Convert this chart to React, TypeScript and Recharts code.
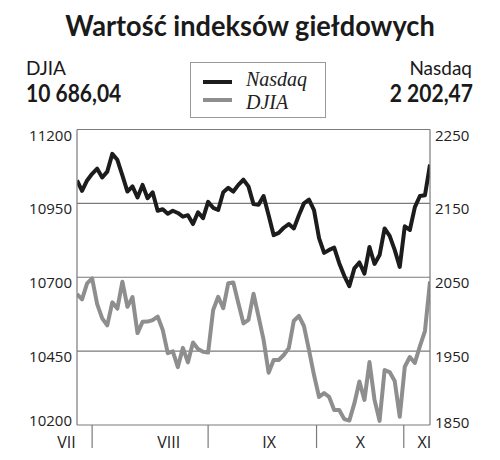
import React from "react";
import { ComposedChart, Line, XAxis, YAxis, CartesianGrid } from "recharts";

// Trading days from late July to 4 Nov 2005 (index 0..70)
const nasdaq: number[] = [
  2181, 2167, 2181, 2190, 2197, 2185, 2193, 2217, 2209, 2188,
  2166, 2173, 2158, 2175, 2157, 2165, 2140, 2142, 2136, 2140,
  2137, 2132, 2134, 2122, 2138, 2130, 2152, 2144, 2141, 2165,
  2171, 2166, 2175, 2182, 2173, 2149, 2148, 2160, 2134, 2107,
  2110, 2117, 2122, 2116, 2134, 2150, 2155, 2141, 2103, 2083,
  2087, 2090, 2069, 2052, 2038, 2062, 2070, 2055, 2091, 2068,
  2080, 2116, 2106, 2087, 2064, 2119, 2114, 2145, 2160, 2161,
  2202.47,
];

const djia: number[] = [
  10643, 10625, 10679, 10696, 10609, 10561, 10537, 10615, 10594, 10685,
  10600, 10633, 10511, 10549, 10550, 10555, 10567, 10522, 10443, 10449,
  10396, 10461, 10412, 10479, 10457, 10448, 10445, 10589, 10634, 10595,
  10680, 10682, 10612, 10544, 10556, 10644, 10567, 10488, 10377, 10420,
  10420, 10437, 10460, 10553, 10569, 10535, 10454, 10369, 10295, 10308,
  10295, 10251, 10251, 10220, 10215, 10273, 10347, 10285, 10413, 10285,
  10214, 10386, 10379, 10349, 10228, 10397, 10430, 10410, 10467, 10518,
  10686.04,
];

const monthLabels: string[] = ["VII", "VIII", "IX", "X", "XI"];
const monthLabelPos: number[] = [-2.1, 18.2, 38.1, 56.2, 68.9];
const monthBoundaries: number[] = [3, 26, 47.5, 64.8];

const djiaTicks: number[] = [10200, 10450, 10700, 10950, 11200];
const nasdaqTicks: number[] = [1850, 1950, 2050, 2150, 2250];

const data = nasdaq.map((v, i) => ({ day: i, nasdaq: v, djia: djia[i] }));

const TICK_FONT = "'Open Sans', sans-serif";
const GRID = "#7a7a7a";

const XTick = (props: any) => {
  const { x, y, payload } = props;
  const v = payload.value;
  const bi = monthBoundaries.indexOf(v);
  if (bi >= 0) {
    return <line x1={x} x2={x} y1={y} y2={y + 23} stroke={GRID} strokeWidth={1.2} />;
  }
  const li = monthLabelPos.indexOf(v);
  if (li < 0) return null;
  return (
    <text x={x} y={y + 23} textAnchor="middle" fontFamily={TICK_FONT} fontSize={16} fill="#222">
      {monthLabels[li]}
    </text>
  );
};

const YTickLeft = (props: any) => {
  const { x, y, payload } = props;
  const isBottom = payload.value === djiaTicks[0];
  return (
    <text x={x} y={isBottom ? y + 1 : y + 11} textAnchor="end" fontFamily={TICK_FONT} fontSize={15} fill="#222">
      {payload.value}
    </text>
  );
};

const YTickRight = (props: any) => {
  const { x, y, payload } = props;
  const isBottom = payload.value === nasdaqTicks[0];
  return (
    <text x={x} y={isBottom ? y + 3 : y + 11} textAnchor="start" fontFamily={TICK_FONT} fontSize={15} fill="#222">
      {payload.value}
    </text>
  );
};

const headFont = "Lato, 'Noto Sans', sans-serif";
const legendFont = "'Liberation Serif', serif";

export default function App() {
  return (
    <div style={{ position: "absolute", left: 0, top: 0, width: 500, height: 460, background: "#fff" }}>
      <div
        style={{
          position: "absolute", left: 0, top: 8, width: 500, textAlign: "center",
          fontFamily: headFont, fontWeight: 700, fontSize: 28, color: "#1a1a1a", lineHeight: "34px",
          transform: "scaleX(0.97)", transformOrigin: "250px 0",
        }}
      >
        Wartość indeksów giełdowych
      </div>
      <div style={{ position: "absolute", left: 26, top: 58, fontFamily: headFont, fontSize: 19, color: "#1a1a1a", lineHeight: "19px" }}>
        DJIA
      </div>
      <div
        style={{
          position: "absolute", left: 26, top: 79, fontFamily: headFont, fontWeight: 700, fontSize: 25, color: "#1a1a1a",
          lineHeight: "26px", transform: "scaleX(0.84)", transformOrigin: "0 0", whiteSpace: "nowrap",
        }}
      >
        10 686,04
      </div>
      <div style={{ position: "absolute", right: 28, top: 58, fontFamily: headFont, fontSize: 19, color: "#1a1a1a", lineHeight: "19px", textAlign: "right" }}>
        Nasdaq
      </div>
      <div
        style={{
          position: "absolute", right: 27, top: 79, fontFamily: headFont, fontWeight: 700, fontSize: 25, color: "#1a1a1a",
          lineHeight: "26px", textAlign: "right", transform: "scaleX(0.84)", transformOrigin: "100% 0", whiteSpace: "nowrap",
        }}
      >
        2 202,47
      </div>
      <div style={{ position: "absolute", left: 190, top: 62, width: 136, height: 56, border: "1px solid #999", boxSizing: "border-box" }}>
        <div style={{ position: "absolute", left: 12, top: 17, width: 29, height: 4, background: "#1c1c1c" }} />
        <div style={{ position: "absolute", left: 12, top: 35, width: 29, height: 4, background: "#8e8e8e" }} />
        <div style={{ position: "absolute", left: 55, top: 6, fontFamily: legendFont, fontStyle: "italic", fontSize: 20, color: "#222", lineHeight: "20px" }}>
          Nasdaq
        </div>
        <div style={{ position: "absolute", left: 55, top: 28.5, fontFamily: legendFont, fontStyle: "italic", fontSize: 20, color: "#222", lineHeight: "20px" }}>
          DJIA
        </div>
      </div>
      <div style={{ position: "absolute", left: 0, top: 0 }}>
        <ComposedChart width={500} height={460} data={data} margin={{ top: 129.5, right: 0, bottom: 0, left: 0 }}>
          <CartesianGrid yAxisId="djia" vertical={false} stroke={GRID} strokeWidth={1.2} />
          <XAxis
            dataKey="day"
            type="number"
            domain={[0, 70]}
            ticks={[...monthBoundaries, ...monthLabelPos]}
            interval={0}
            tick={<XTick />}
            tickLine={false}
            axisLine={false}
            tickSize={0}
            tickMargin={0}
            height={35}
            allowDataOverflow
          />
          <YAxis
            yAxisId="djia"
            orientation="left"
            domain={[10200, 11200]}
            ticks={djiaTicks}
            interval={0}
            width={77}
            tick={<YTickLeft />}
            tickLine={false}
            tickSize={0}
            tickMargin={5}
            axisLine={{ stroke: GRID, strokeWidth: 1.2 }}
          />
          <YAxis
            yAxisId="nasdaq"
            orientation="right"
            domain={[1850, 2250]}
            ticks={nasdaqTicks}
            interval={0}
            width={70}
            tick={<YTickRight />}
            tickLine={false}
            tickSize={0}
            tickMargin={5}
            axisLine={{ stroke: GRID, strokeWidth: 1.2 }}
          />
          <Line
            yAxisId="djia"
            dataKey="djia"
            type="linear"
            stroke="#8e8e8e"
            strokeWidth={4}
            dot={false}
            strokeLinejoin="round"
            isAnimationActive={false}
          />
          <Line
            yAxisId="nasdaq"
            dataKey="nasdaq"
            type="linear"
            stroke="#1c1c1c"
            strokeWidth={4}
            dot={false}
            strokeLinejoin="round"
            isAnimationActive={false}
          />
        </ComposedChart>
      </div>
    </div>
  );
}
